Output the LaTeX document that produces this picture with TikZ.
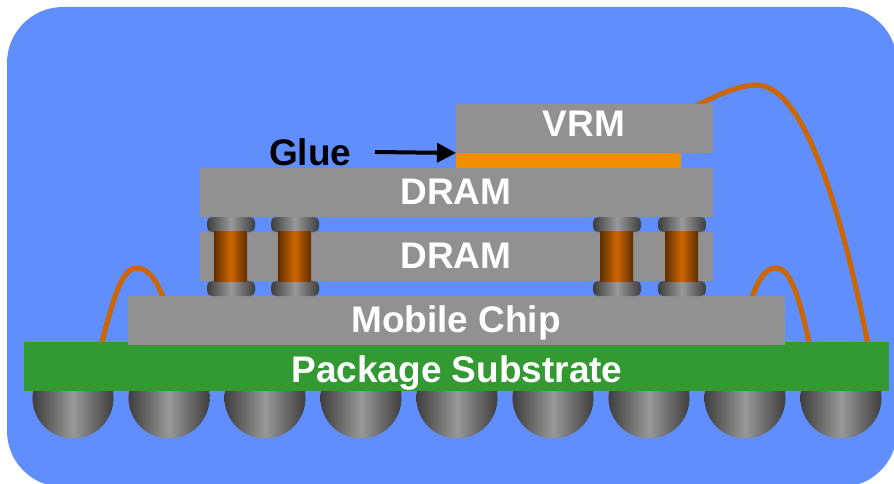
\documentclass[tikz,border=0pt]{standalone}
\usepackage{fontspec}
\setmainfont{Liberation Sans}
\usetikzlibrary{arrows.meta}
\definecolor{bgblue}{HTML}{608EFC}
\definecolor{chipgray}{HTML}{919191}
\definecolor{subgreen}{HTML}{339933}
\definecolor{gluecol}{HTML}{F09000}
\definecolor{wirecol}{HTML}{CC6600}
\definecolor{cudark}{HTML}{5E2E00}
\definecolor{cumid}{HTML}{CC6600}
\definecolor{capdark}{HTML}{3E3E3E}
\definecolor{caplight}{HTML}{999999}
\begin{document}
\begin{tikzpicture}[x=1pt,y=-1pt,
  layer/.style={fill=chipgray, inner sep=0pt, outer sep=0pt, anchor=north west},
  lbl/.style={text=white, font=\bfseries\fontsize{37}{40}\selectfont, anchor=base, inner sep=0pt},
  capbox/.style={rounded corners=5pt, left color=capdark, right color=capdark, middle color=caplight},
  pillar/.style={left color=cudark, right color=cudark, middle color=cumid},
  ball/.style={left color=capdark, right color=capdark, middle color=caplight},
  wire/.style={draw=wirecol, line width=5pt, line cap=round}
]
\useasboundingbox (0,0) rectangle (894,484);
\clip (0,0) rectangle (894,484);

% background panel
\fill[bgblue, rounded corners=56pt] (7,7) rectangle (897,487);

% solder balls under the substrate
\foreach \i in {0,...,8}
  \shade[ball] (73+96*\i,398) circle[radius=40.5];

% bond-wire end points
\coordinate (wa1) at (102,342);
\coordinate (wa2) at (165,302);
\coordinate (wb1) at (750,302);
\coordinate (wb2) at (809,342);
\coordinate (wc1) at (692,108);
\coordinate (wc2) at (868,345);

% bond wires
\draw[wire] (wa1) .. controls (114,296) and (122,268) .. (137,268)
               .. controls (150,268) and (158,284) .. (wa2);
\draw[wire] (wb1) .. controls (757,284) and (763,268) .. (776,268)
               .. controls (790,268) and (799,296) .. (wb2);
\draw[wire] (wc1) .. controls (715,96) and (738,85) .. (757,85)
               .. controls (808,86) and (846,232) .. (wc2);

% package substrate
\node[layer, fill=subgreen, minimum width=865pt, minimum height=49pt] (sub) at (24,342) {};
\node[lbl] at (457,382) {Package Substrate};

% mobile chip
\node[layer, minimum width=657pt, minimum height=49pt] (soc) at (128,296) {};
\node[lbl] at (456,332) {Mobile Chip};

% DRAM dies
\node[layer, minimum width=513pt, minimum height=49pt] (dramb) at (200,232) {};
\node[layer, minimum width=513pt, minimum height=49pt] (dramt) at (200,168) {};

% micro-bumps and copper pillars
\foreach \x in {207,271,593,658} {
  \shade[capbox] (\x,217) rectangle ++(48,15);
  \shade[capbox] (\x,281) rectangle ++(48,15);
  \shade[pillar] (\x+7,231) rectangle ++(33,50);
}

\node[lbl] at (456,268) {DRAM};
\node[lbl] at (456,204) {DRAM};

% glue layer and voltage regulator
\node[layer, fill=gluecol, minimum width=225pt, minimum height=15pt] (glue) at (456,153) {};
\node[layer, minimum width=257pt, minimum height=49pt] (vrm) at (456,104) {};
\node[lbl] at (584,137) {VRM};

% glue label with arrow
\node[lbl, text=black, anchor=base west] (gluelbl) at (269,165) {Glue};
\coordinate (gluetail) at (375,152);
\draw[line width=4pt, -{Triangle[length=19pt,width=19pt]}] (gluetail) -- (vrm.south west);
\end{tikzpicture}
\end{document}
